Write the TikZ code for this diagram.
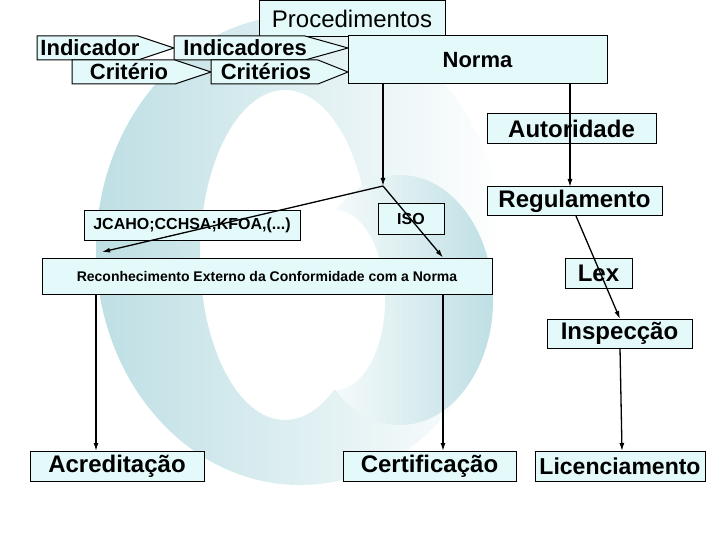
\documentclass[tikz,border=0pt]{standalone}
\usepackage{fontspec}
\setmainfont{Liberation Sans}
\usetikzlibrary{arrows.meta,positioning,calc}
\definecolor{boxfill}{RGB}{228,250,250}
\definecolor{wmteal}{RGB}{190,223,228}

\begin{document}
\begin{tikzpicture}[x=1pt,y=-1pt,
  box/.style={draw=black, fill=boxfill, line width=1pt, inner sep=0pt},
  top/.style={font=\fontsize{22}{24}\selectfont\bfseries},
  big/.style={font=\fontsize{24}{26}\selectfont\bfseries},
  small/.style={font=\fontsize{16}{18}\selectfont\bfseries},
  arr/.style={-{Latex[length=8pt,width=5pt]}, line width=1.3pt}]
  \useasboundingbox (0,0) rectangle (720,540);
  % background mark
  \shade[left color=wmteal, right color=white, even odd rule]
    (300,250) ellipse (204 and 235) (285,255) ellipse (85 and 165);
  \shade[left color=white, right color=wmteal]
    (400,300) ellipse (93 and 125);
  \fill[white] (335,300) ellipse (50 and 90);

  % top row
  \node[box, minimum width=186pt, minimum height=36pt,
        font=\fontsize{24}{26}\selectfont](proc) at (352,19){Procedimentos};
  \path[box] (37,36) -- (138,36) -- (174,48) -- (138,60) -- (37,60) -- cycle;
  \node[top](indicador) at (90,48){Indicador};
  \path[box] (174,36) -- (305,36) -- (348,48) -- (305,60) -- (174,60) -- cycle;
  \node[top](indicadores) at (245,48){Indicadores};
  \path[box] (72,60) -- (175,60) -- (211,72) -- (175,84) -- (72,84) -- cycle;
  \node[top](criterio) at (129,72){Critério};
  \path[box] (211,60) -- (318,60) -- (348,72) -- (318,84) -- (211,84) -- cycle;
  \node[top](criterios) at (266,72){Critérios};
  \node[box, top, minimum width=259pt, minimum height=48pt](norma) at (477.5,60){Norma};

  % middle
  \node[box, big, minimum width=169pt, minimum height=30pt](autoridade) at (571.5,129){Autoridade};
  \node[box, big, minimum width=175pt, minimum height=29pt](regulamento) at (574.5,201.5){Regulamento};
  \node[box, small, minimum width=216pt, minimum height=29pt](jcaho) at (192,225.5){JCAHO;CCHSA;KFOA,(...)};
  \node[box, small, minimum width=66pt, minimum height=30pt](iso) at (411,219){ISO};
  \node[box, font=\fontsize{14}{16}\selectfont\bfseries, minimum width=450pt,
        minimum height=36pt](recon) at (267,276){Reconhecimento Externo da Conformidade com a Norma};
  \node[box, big, minimum width=67pt, minimum height=30pt](lex) at (598.5,273){Lex};
  \node[box, big, minimum width=145pt, minimum height=29pt](inspeccao) at (619.5,333.5){Inspecção};

  % bottom row
  \node[box, big, minimum width=174pt, minimum height=30pt](acreditacao) at (117,466){Acreditação};
  \node[box, big, minimum width=173pt, minimum height=30pt](certificacao) at (429.5,466){Certificação};
  \node[box, font=\fontsize{23}{25}\selectfont\bfseries, minimum width=170pt,
        minimum height=30pt](licenciamento) at (620,466){Licenciamento};

  % connectors
  \coordinate (split) at (383,186);
  \coordinate (jcend) at (102,252);
  \coordinate (regIn) at (570,187);
  \coordinate (regOut) at (576,216);
  \coordinate (inspIn) at (620,319);
  \coordinate (inspOut) at (620,348);
  \coordinate (acrIn) at (96,451);
  \coordinate (certIn) at (443,451);
  \coordinate (licIn) at (622,451);
  \draw[arr] (norma.south -| split) -- (split);
  \draw[arr] (split) -- (jcend);
  \draw[arr] (split) -- (certIn |- recon.north);
  \draw[arr] (recon.south -| acrIn) -- (acrIn);
  \draw[arr] (recon.south -| certIn) -- (certIn);
  \draw[arr] (norma.south -| regIn) -- (regIn);
  \draw[arr] (regOut) -- (inspIn);
  \draw[arr] (inspOut) -- (licIn);
\end{tikzpicture}
\end{document}
